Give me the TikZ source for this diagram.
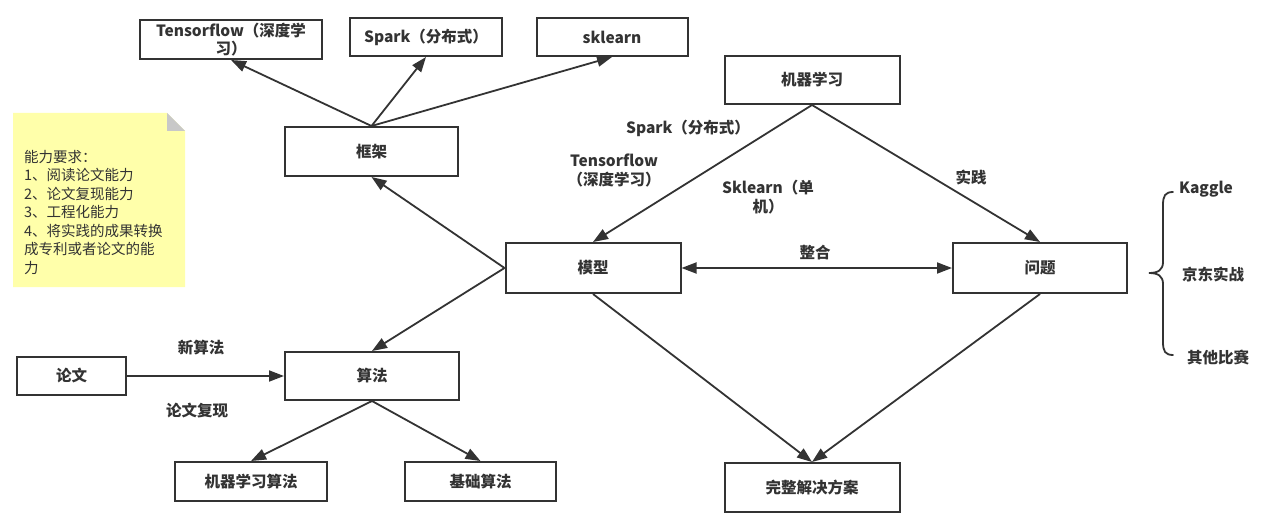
\documentclass[tikz,border=0pt]{standalone}
\usepackage{fontspec}
\setmainfont{Noto Sans CJK SC}
\usepackage{xcolor}
\usetikzlibrary{arrows.meta, positioning}
\definecolor{ink}{RGB}{51,51,51}
\definecolor{notefill}{RGB}{255,255,170}
\definecolor{foldgray}{RGB}{200,200,200}

\begin{document}
\begin{tikzpicture}[
    x=1pt, y=-1pt,
    box/.style={draw=ink, line width=2pt, fill=white, align=center, inner sep=0pt,
        text=ink, font=\fontsize{15.5}{18}\selectfont\bfseries},
    lbl/.style={align=center, inner sep=0pt, text=ink, font=\fontsize{15.5}{19}\selectfont\bfseries},
    arr/.style={draw=ink, line width=1.8pt, -{Triangle[length=15pt, width=11pt]}}
]
\useasboundingbox (0,0) rectangle (1266,516);

% Note
\fill[notefill] (13,113) -- (167,113) -- (185,131) -- (185,287) -- (13,287) -- cycle;
\fill[foldgray] (167,113) -- (185,131) -- (167,131) -- cycle;
\node[anchor=west, align=left, inner sep=0pt, text=ink,
    font=\fontsize{14.5}{18.5}\selectfont] (note) at (24,212.5)
    {能力要求：\\1、阅读论文能力\\2、论文复现能力\\3、工程化能力\\4、将实践的成果转换\\成专利或者论文的能\\力};

% Boxes
\node[box, minimum width=182pt, minimum height=39pt] (tf) at (231,39.5) {Tensorflow（深度学\\习）};
\node[box, minimum width=152pt, minimum height=38pt] (spark) at (426,37) {Spark（分布式）};
\node[box, minimum width=151pt, minimum height=38pt] (sklearn) at (612,37) {sklearn};
\node[box, minimum width=173pt, minimum height=49pt] (frame) at (371.5,151.5) {框架};
\node[box, minimum width=175pt, minimum height=48pt] (ml) at (812,80) {机器学习};
\node[box, minimum width=175pt, minimum height=50pt] (model) at (593,268) {模型};
\node[box, minimum width=174pt, minimum height=50pt] (problem) at (1040,268) {问题};
\node[box, minimum width=109pt, minimum height=38pt] (paper) at (71.5,376) {论文};
\node[box, minimum width=174pt, minimum height=48pt] (algo) at (372,376) {算法};
\node[box, minimum width=152pt, minimum height=39pt] (mlalgo) at (251,481.5) {机器学习算法};
\node[box, minimum width=151pt, minimum height=39pt] (basealgo) at (480.5,481.5) {基础算法};
\node[box, minimum width=175pt, minimum height=49pt] (solution) at (812,487.5) {完整解决方案};

% Labels
\node[lbl] (lspark) at (688,128) {Spark（分布式）};
\node[lbl] (ltf) at (614,170.5) {Tensorflow\\（深度学习）};
\node[lbl] (lsk) at (768,197.5) {Sklearn（单\\机）};
\node[lbl] (lpractice) at (971,177) {实践};
\node[lbl] (lmerge) at (815,253) {整合};
\node[lbl] (lnew) at (201,348) {新算法};
\node[lbl] (lrepro) at (197,411) {论文复现};
\node[lbl] (kaggle) at (1206,189) {Kaggle};
\node[lbl] (jd) at (1213,275) {京东实战};
\node[lbl] (other) at (1218,357) {其他比赛};

% Arrows
\draw[arr] (frame.north) -- (tf.south);
\draw[arr] (frame.north) -- (spark.south);
\draw[arr] (frame.north) -- (sklearn.south);
\draw[arr] (model.west) -- (frame.south);
\draw[arr] (model.west) -- (algo.north);
\draw[arr] (ml.south) -- (model.north);
\draw[arr] (ml.south) -- (problem.north);
\draw[arr, {Triangle[length=15pt, width=11pt]}-{Triangle[length=15pt, width=11pt]}] (model.east) -- (problem.west);
\draw[arr] (model.south) -- (solution.north);
\draw[arr] (problem.south) -- (solution.north);
\draw[arr] (paper.east) -- (algo.west);
\draw[arr] (algo.south) -- (mlalgo.north);
\draw[arr] (algo.south) -- (basealgo.north);

% Brace
\draw[ink, line width=1.8pt, line cap=round]
    (1173,192) .. controls (1165,192) and (1163,196) .. (1163,205) -- (1163,262)
    .. controls (1163,270) and (1158,273) .. (1149,273)
    .. controls (1158,273) and (1163,276) .. (1163,284) -- (1163,342)
    .. controls (1163,351) and (1165,355) .. (1173,355);
\end{tikzpicture}
\end{document}
